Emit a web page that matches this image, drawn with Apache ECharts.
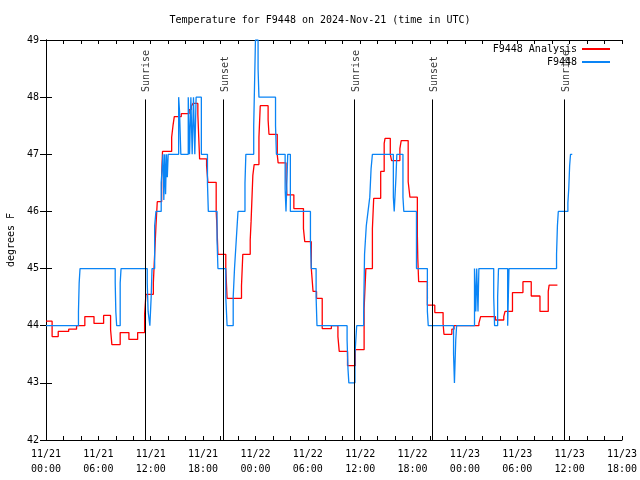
<!DOCTYPE html>
<html>
<head>
<meta charset="utf-8">
<script src="https://cdn.jsdelivr.net/npm/echarts@6/dist/echarts.min.js"></script>
<style>html,body{margin:0;padding:0;background:#fff;}#c{width:640px;height:480px;}</style>
</head>
<body>
<div id="c"></div>
<script>
// Hours since 2024-11-21 00:00 UTC and temperatures (deg F)
const analysisHours = [0,0.7,1.4,2.6,3.5,4.45,5.5,6.6,7.4,7.55,8.5,9.5,10.5,11.3,11.45,12.3,12.45,12.6,12.75,13.25,13.35,14.4,14.55,14.7,15.5,16.4,16.65,16.85,17.4,17.5,17.6,18.4,18.55,19.5,19.6,19.7,20.6,20.75,22.4,22.55,23.4,23.5,23.7,23.85,24.4,24.55,25.45,25.55,26.5,26.6,27.5,27.6,28.4,29.5,29.65,30.4,30.6,31.0,31.65,32.7,33.45,33.6,34.55,35.45,36.45,36.55,36.65,37.4,37.55,38.35,38.75,38.85,39.45,39.6,40.55,40.7,41.5,41.7,42.55,42.6,42.7,43.7,44.55,45.5,45.6,46.5,46.75,49.6,49.8,51.5,52.45,52.6,53.45,54.65,55.6,56.6,57.55,57.65,58.6];
const analysisTemps = [44.08,43.81,43.90,43.94,44.00,44.16,44.04,44.18,43.93,43.67,43.88,43.76,43.88,44.20,44.55,44.75,45.25,45.75,46.17,46.60,47.05,47.30,47.50,47.66,47.71,47.78,47.84,47.89,47.70,47.30,46.92,46.80,46.51,46.00,45.70,45.25,45.00,44.48,44.70,45.25,45.50,45.83,46.63,46.82,47.30,47.85,47.60,47.35,46.99,46.85,46.60,46.29,46.05,45.70,45.47,45.00,44.60,44.48,43.95,44.00,43.81,43.55,43.30,43.58,44.30,44.65,45.00,45.70,46.23,46.70,47.19,47.28,47.00,46.89,47.10,47.24,46.52,46.25,45.60,45.18,44.77,44.36,44.23,44.04,43.85,43.94,44.00,44.04,44.16,44.10,44.16,44.25,44.58,44.77,44.52,44.25,44.60,44.71,44.71];

const obsHours = [0,3.72,3.8,3.9,7.93,8.0,8.1,8.5,8.6,11.6,11.7,11.9,12.05,12.15,12.45,12.6,13.2,13.3,13.4,13.5,13.6,13.7,13.8,13.9,14.0,15.2,15.3,15.45,16.3,16.45,16.6,16.75,16.9,17.05,17.2,17.8,18.5,18.6,19.6,19.7,20.6,20.75,21.45,21.6,21.8,22.0,22.8,22.9,23.8,23.9,24.0,24.3,24.4,26.3,26.4,27.4,27.5,27.7,28.0,30.3,30.4,30.95,31.05,34.5,34.6,34.7,35.4,35.5,35.6,36.4,36.5,36.7,36.9,37.1,37.25,37.4,39.8,39.9,40.1,40.2,40.9,41.0,42.45,43.7,43.8,46.7,46.8,46.95,47.05,49.1,49.25,49.35,49.5,49.6,51.3,51.4,51.75,51.85,52.9,53.05,58.5,58.6,58.7,59.8,59.9,60.0,60.1,60.3];
const obsTemps = [44,44.25,44.75,45,44.75,44.25,44,44.75,45,44.75,44.25,44,44.5,45,45.75,46,46.5,46.75,47,46.2,47,46.3,47,46.6,47,48,47.75,47,48,47,48,47,48,47,48,47,46.5,46,45.5,45,44.5,44,44.5,45,45.5,46,46.5,47,47.5,48.25,49,48.5,48,47.5,47,46.4,46,47,46,45.5,45,44.5,44,43.75,43.25,43,43.5,43.75,44,44.25,45.25,45.75,46,46.25,46.75,47,46.25,46,46.6,47,46.25,46,45,44.25,44,43.5,43,43.75,44,45,44.25,45,44.25,45,44.5,44,44.5,45,44,45,45.25,45.75,46,46.15,46.4,46.8,47,47];

const sunHours = [11.33, 20.3, 35.35, 44.3, 59.38];
const sunLabels = ['Sunrise', 'Sunset', 'Sunrise', 'Sunset', 'Sunrise'];

const FONT = 'DejaVu Sans Mono';
const zip = (a, b) => a.map((v, i) => [v, b[i]]);
const fmtX = v => {
  const d = 21 + Math.floor(v / 24);
  const h = v % 24;
  return '11/' + d + '\n' + String(h).padStart(2, '0') + ':00';
};

const chart = echarts.init(document.getElementById('c'), null, {renderer: 'canvas'});
const axisBlack = {lineStyle: {color: '#000', width: 1}};
chart.setOption({
  animation: false,
  backgroundColor: '#fff',
  title: {
    text: 'Temperature for F9448 on 2024-Nov-21 (time in UTC)',
    left: 'center', top: 10,
    textStyle: {fontFamily: FONT, fontSize: 10, fontWeight: 'normal', color: '#000'}
  },
  legend: {
    data: ['F9448 Analysis', 'F9448'],
    orient: 'vertical', right: 25, top: 38, align: 'right',
    itemWidth: 28, itemHeight: 2, itemGap: 1, icon: 'rect',
    textStyle: {fontFamily: FONT, fontSize: 10, color: '#000', lineHeight: 12}
  },
  grid: {left: 46, right: 18, top: 40, bottom: 40, containLabel: false, outerBoundsMode: 'none'},
  xAxis: [{
    type: 'value', min: 0, max: 66, interval: 6, position: 'bottom',
    axisLine: axisBlack,
    axisTick: {inside: true, length: 4, lineStyle: {color: '#000'}},
    minorTick: {show: true, splitNumber: 3, length: 4, lineStyle: {color: '#000'}},
    splitLine: {show: false},
    axisLabel: {formatter: fmtX, fontFamily: FONT, fontSize: 10, color: '#000', lineHeight: 15, margin: 7}
  }, {
    type: 'value', min: 0, max: 66, interval: 6, position: 'top',
    axisLine: axisBlack,
    axisTick: {inside: true, length: 4, lineStyle: {color: '#000'}},
    minorTick: {show: true, splitNumber: 3, length: 4, lineStyle: {color: '#000'}},
    splitLine: {show: false}, axisLabel: {show: false}
  }],
  yAxis: [{
    type: 'value', min: 42, max: 49, interval: 1, position: 'left',
    name: 'degrees F', nameLocation: 'middle', nameGap: 30, nameRotate: 90,
    nameTextStyle: {fontFamily: FONT, fontSize: 10, color: '#000'},
    axisLine: {show: true, lineStyle: {color: '#000', width: 1}},
    axisTick: {show: true, inside: true, length: 6, lineStyle: {color: '#000'}},
    splitLine: {show: false},
    axisLabel: {fontFamily: FONT, fontSize: 10, color: '#000', margin: 7}
  }, {
    type: 'value', min: 42, max: 49, interval: 1, position: 'right',
    axisLine: {show: true, lineStyle: {color: '#000', width: 1}},
    axisTick: {show: true, inside: true, length: 6, lineStyle: {color: '#000'}},
    splitLine: {show: false}, axisLabel: {show: false}
  }],
  series: [{
    name: 'F9448 Analysis', type: 'line', step: 'end', symbol: 'none',
    color: '#ff0000', lineStyle: {color: '#ff0000', width: 1.3},
    data: zip(analysisHours, analysisTemps),
    markLine: {
      silent: true, symbol: ['none', 'none'], animation: false,
      label: {show: false},
      lineStyle: {color: '#000', width: 1, type: 'solid'},
      data: sunHours.map(h => [{coord: [h, 42]}, {coord: [h, 47.96]}])
    }
  }, {
    name: 'F9448', type: 'line', step: 'end', symbol: 'none',
    color: '#0a84f5', lineStyle: {color: '#0a84f5', width: 1.3},
    data: zip(obsHours, obsTemps)
  }, {
    name: 'sun', type: 'scatter', symbolSize: 0, silent: true,
    data: sunHours.map((h, i) => [h, 48.09, sunLabels[i]]),
    label: {
      show: true, position: 'inside', rotate: 90, align: 'left', verticalAlign: 'middle',
      offset: [0, 2],
      formatter: p => p.value[2],
      fontFamily: FONT, fontSize: 10, color: '#000'
    }
  }]
});
</script>
</body>
</html>
